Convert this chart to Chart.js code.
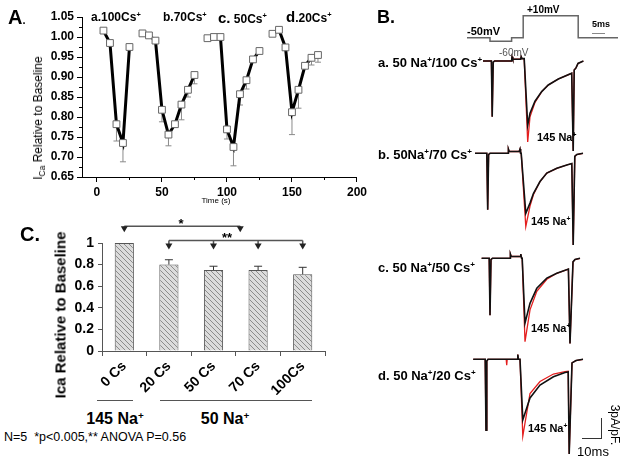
<!DOCTYPE html>
<html>
<head>
<meta charset="utf-8">
<script src="https://cdn.jsdelivr.net/npm/chart.js@4.4.1/dist/chart.umd.min.js"></script>
<style>
body { margin: 0; background: #fff; font-family: "Liberation Sans", Arial, sans-serif; }
#page { position: relative; width: 626px; height: 458px; overflow: hidden; }
canvas { position: absolute; }
.t { position: absolute; white-space: nowrap; color: #000; line-height: 1; }
.l { transform: translate(0, -50%); }
.c { transform: translate(-50%, -50%); }
.b { font-weight: bold; }
.rot { transform: translate(-50%, -50%) rotate(-90deg); }
.rotcw { transform: translate(-50%, -50%) rotate(90deg); }
sup { font-size: 62%; line-height: 0; vertical-align: 0.55em; }
sub { font-size: 70%; line-height: 0; vertical-align: -0.3em; }
.hline { position: absolute; height: 1px; background: #555; }
</style>
</head>
<body>
<div id="page">
  <canvas id="chartA" width="370" height="215" style="left:0;top:0"></canvas>
  <canvas id="chartC" width="340" height="180" style="left:0;top:215px"></canvas>
  <canvas id="protocol" width="160" height="40" style="left:460px;top:5px"></canvas>
  <canvas id="traceA" width="160" height="105" style="left:460px;top:48px"></canvas>
  <canvas id="traceB" width="160" height="110" style="left:460px;top:140px"></canvas>
  <canvas id="traceC" width="160" height="105" style="left:460px;top:245px"></canvas>
  <canvas id="traceD" width="160" height="113" style="left:460px;top:345px"></canvas>

  <!-- panel A text -->
  <div class="t l b" style="left:8px;top:17px;font-size:20px">A<span style="font-size:11px">.</span></div>
  <div class="t l b" style="left:91px;top:17px;font-size:12px">a.100Cs<sup>+</sup></div>
  <div class="t l b" style="left:163px;top:17px;font-size:12px">b.70Cs<sup>+</sup></div>
  <div class="t l b" style="left:218px;top:17px;font-size:12px"><span style="font-size:15px">c.</span> 50Cs<sup>+</sup></div>
  <div class="t l b" style="left:286px;top:16px;font-size:12px"><span style="font-size:15px">d</span>.20Cs<sup>+</sup></div>
  <div class="t rot" style="left:38px;top:118px;font-size:12px">I<sub>Ca</sub> Relative to Baseline</div>
  <div class="t c" style="left:216px;top:201px;font-size:8px">Time (s)</div>

  <!-- panel C text -->
  <div class="t l b" style="left:20px;top:234px;font-size:20px">C.</div>
  <div class="t rot b" style="left:60px;top:315px;font-size:15px">Ica Relative to Baseline</div>
  <div class="t c b" style="left:181px;top:223px;font-size:13px">*</div>
  <div class="t c b" style="left:227px;top:237px;font-size:13px">**</div>
  <div class="hline" style="left:97px;top:400px;width:36px"></div>
  <div class="hline" style="left:160px;top:400px;width:152px"></div>
  <div class="t c b" style="left:115px;top:419px;font-size:16px">145 Na<sup>+</sup></div>
  <div class="t c b" style="left:225px;top:419px;font-size:16px">50 Na<sup>+</sup></div>
  <div class="t l" style="left:4px;top:437px;font-size:12.5px">N=5 &nbsp;*p&lt;0.005,** ANOVA P=0.56</div>

  <!-- panel B text -->
  <div class="t l b" style="left:377px;top:17px;font-size:18px">B.</div>
  <div class="t l b" style="left:467px;top:31px;font-size:11px">-50mV</div>
  <div class="t l b" style="left:527px;top:10px;font-size:10px">+10mV</div>
  <div class="t l b" style="left:592px;top:24px;font-size:9px">5ms</div>
  <div class="hline" style="left:592px;top:33px;width:13px;background:#888"></div>
  <div class="t l" style="left:499px;top:53px;font-size:10px;color:#555">-60mV</div>
  <div class="t l b" style="left:378px;top:62px;font-size:13px">a. 50 Na<sup>+</sup>/100 Cs<sup>+</sup></div>
  <div class="t l b" style="left:378px;top:154px;font-size:13px">b. 50Na<sup>+</sup>/70 Cs<sup>+</sup></div>
  <div class="t l b" style="left:378px;top:267px;font-size:13px">c. 50 Na<sup>+</sup>/50 Cs<sup>+</sup></div>
  <div class="t l b" style="left:378px;top:375px;font-size:13px">d. 50 Na<sup>+</sup>/20 Cs<sup>+</sup></div>
  <div class="t l b" style="left:537px;top:137px;font-size:11px">145 Na<sup>+</sup></div>
  <div class="t l b" style="left:531px;top:221px;font-size:11px">145 Na<sup>+</sup></div>
  <div class="t l b" style="left:531px;top:328px;font-size:11px">145 Na<sup>+</sup></div>
  <div class="t l b" style="left:528px;top:428px;font-size:11px">145 Na<sup>+</sup></div>
  <div style="position:absolute;left:601px;top:418px;width:1px;height:21px;background:#333"></div>
  <div class="hline" style="left:582px;top:438px;width:20px;background:#333"></div>
  <div class="t c" style="left:593px;top:451px;font-size:13px">10ms</div>
  <div class="t rotcw" style="left:615px;top:425px;font-size:12px">3pA/pF.</div>
</div>

<script>
// ---- panel A: time course of I_Ca relative to baseline ----
const time100 = [5, 10, 15, 20, 25];
const ica100 = [1.016, 0.985, 0.782, 0.735, 0.975];
const errLow100 = [null, null, 0.740, 0.688, null];

const time70 = [35, 40, 45, 50, 55, 60, 65, 70, 75];
const ica70 = [1.009, 1.004, 0.991, 0.818, 0.756, 0.782, 0.831, 0.868, 0.905];
const errLow70 = [null, null, null, 0.788, 0.728, null, 0.793, 0.850, 0.883];

const time50 = [85, 90, 95, 100, 105, 110, 115, 120, 125];
const ica50 = [0.997, 1.0, 1.0, 0.769, 0.725, 0.857, 0.892, 0.944, 0.965];
const errLow50 = [null, null, null, 0.745, 0.678, 0.830, 0.870, null, null];

const time20 = [135, 140, 145, 150, 155, 160, 165, 170];
const ica20 = [1.008, 1.018, 0.974, 0.812, 0.868, 0.928, 0.948, 0.955];
const errLow20 = [null, null, null, 0.756, 0.822, null, 0.930, 0.937];

// ---- panel C: mean I_Ca per Cs concentration ----
const csLabels = ['0 Cs', '20 Cs', '50 Cs', '70 Cs', '100Cs'];
const icaMeans = [1, 0.80, 0.75, 0.75, 0.71];
const icaErrTop = [null, 0.845, 0.785, 0.785, 0.775];
const starPair = [0, 2.6];          // * bracket ends (category index)
const starStarGroup = [1, 2, 3, 4]; // ** bracket arrows

// ---- panel B: voltage protocol and current traces (ms, mV, pA/pF) ----
const protoTime = [-1.5, 10, 10, 20.8, 20.8, 26.6, 26.6, 54.1, 54.1, 74];
const protoVolt = [-50, -50, -60, -60, -50, -50, 10, 10, -50, -50];

const traceTimeA = [6.5, 10.7, 11.1, 11.6, 12.3, 20.8, 21.0, 21.4, 25.3, 25.6, 26.0, 27.1, 28.85, 30.0, 32.5, 35.85, 39.15, 44.15, 50.85, 51.6, 52.1, 53.0, 54.0, 56.7];
const csA = [0, 0, -9.3, -0.2, 0, 0, 0.7, 0.3, 0.3, 0.7, 0.4, 0.4, -10.7, -8.7, -6.7, -5.1, -4.0, -3.0, -2.05, -15.0, -1.5, -1.15, -0.4, 0];
const naA = [0, 0, -9.3, -0.2, 0, 0, 0.7, 0.3, 0.3, 0.7, 0.4, 0.4, -13.5, -9.3, -6.9, -5.1, -4.0, -3.0, -2.05, -15.0, -1.5, -1.15, -0.4, 0];

const traceTimeB = [2.5, 8.4, 8.85, 9.3, 10.0, 19.0, 19.2, 19.6, 24.6, 25.0, 25.3, 25.6, 27.9, 30.0, 31.7, 35.0, 38.4, 43.4, 48.4, 50.9, 51.6, 52.4, 53.4, 56.5];
const csB = [0, 0, -9.4, -0.2, 0, 0, 0.7, 0.3, 0.3, 0.7, 0, 0, -10.0, -8.3, -6.7, -4.7, -3.3, -2.5, -1.95, -1.7, -15.3, -0.5, -0.2, 0];
const naB = [0, 0, -9.4, -0.2, 0, 0, 0.7, 0.3, 0.3, 0.7, 0, 0, -12.2, -8.8, -6.9, -4.7, -3.3, -2.5, -1.95, -1.7, -15.3, -0.5, -0.2, 0];

const traceTimeC = [5.8, 9.6, 10.0, 10.5, 11.2, 20.0, 20.2, 20.6, 25.0, 25.4, 25.8, 26.1, 27.5, 30.0, 33.4, 38.4, 43.4, 49.2, 50.0, 51.5, 52.5, 55.0];
const csC = [0, 0, -9.5, -0.2, 0, 0, 0.7, 0.3, 0.3, 0.7, 0, 0, -10.8, -7.5, -5.0, -3.3, -2.5, -1.8, -14.2, -0.6, -0.2, 0];
const naC = [0, 0, -9.5, -0.2, 0, 0, 0.7, 0.3, 0.3, 0.7, 0, 0, -13.9, -8.6, -5.5, -3.5, -2.5, -1.8, -14.2, -0.6, -0.2, 0];

const traceTimeD = [1.6, 7.6, 8.0, 8.4, 9.0, 18.1, 18.35, 18.6, 23.6, 23.9, 24.2, 25.0, 26.4, 30.0, 35.0, 41.7, 47.5, 49.1, 49.6, 51.0, 53.0, 56.5];
const csD = [0, 0, -11.8, -0.3, 0, 0, 0, 0, 0, 0.8, 0, 0, -10.1, -6.45, -4.3, -2.9, -2.2, -2.1, -15.8, -0.6, -0.2, 0];
const naD = [0, 0, -11.8, -0.3, 0, 0, -1.0, 0, 0, 0.8, 0, 0, -12.8, -5.7, -3.7, -2.45, -2.07, -2.0, -15.8, -0.6, -0.2, 0];

Chart.defaults.font.family = '"Liberation Sans", Arial, sans-serif';
Chart.defaults.color = '#000';
Chart.defaults.animation = false;

function xy(xs, ys) {
    return xs.map((x, i) => ({ x: x, y: ys[i] }));
}

// error bars hanging below the points of panel A
const lowErrors = [errLow100, errLow70, errLow50, errLow20];
const errorBarsA = {
    id: 'errorBarsA',
    beforeDatasetsDraw(chart) {
        const ctx = chart.ctx;
        const xs = chart.scales.x, ys = chart.scales.y;
        ctx.save();
        ctx.strokeStyle = '#8a8a8a';
        ctx.lineWidth = 1;
        chart.data.datasets.forEach((ds, i) => {
            ds.data.forEach((p, j) => {
                const low = lowErrors[i][j];
                if (low == null) return;
                const x = xs.getPixelForValue(p.x);
                const y1 = ys.getPixelForValue(p.y);
                const y2 = ys.getPixelForValue(low);
                ctx.beginPath();
                ctx.moveTo(x, y1); ctx.lineTo(x, y2);
                ctx.moveTo(x - 3, y2); ctx.lineTo(x + 3, y2);
                ctx.stroke();
            });
        });
        ctx.restore();
    },
    // short minor ticks halfway between the labelled ones
    afterDraw(chart) {
        const ctx = chart.ctx;
        const xs = chart.scales.x, ys = chart.scales.y;
        const area = chart.chartArea;
        ctx.save();
        ctx.strokeStyle = '#000';
        ctx.lineWidth = 1;
        ctx.beginPath();
        for (let i = 0; i < xs.ticks.length - 1; i++) {
            const x = Math.round(xs.getPixelForValue((xs.ticks[i].value + xs.ticks[i + 1].value) / 2)) + 0.5;
            ctx.moveTo(x, area.bottom); ctx.lineTo(x, area.bottom + 3);
        }
        for (let i = 0; i < ys.ticks.length - 1; i++) {
            const y = Math.round(ys.getPixelForValue((ys.ticks[i].value + ys.ticks[i + 1].value) / 2)) + 0.5;
            ctx.moveTo(area.left, y); ctx.lineTo(area.left - 3, y);
        }
        ctx.stroke();
        ctx.restore();
    }
};

function seriesA(xs, ys) {
    return {
        data: xy(xs, ys),
        borderColor: '#000',
        borderWidth: 3,
        pointStyle: 'rect',
        pointRadius: 4.8,
        pointBackgroundColor: '#fff',
        pointBorderColor: '#666',
        pointBorderWidth: 1,
        tension: 0
    };
}

new Chart(document.getElementById('chartA'), {
    type: 'line',
    data: {
        datasets: [
            seriesA(time100, ica100),
            seriesA(time70, ica70),
            seriesA(time50, ica50),
            seriesA(time20, ica20)
        ]
    },
    options: {
        responsive: false,
        layout: { padding: { top: 17, right: 13, left: 0, bottom: 0 } },
        plugins: { legend: { display: false }, tooltip: { enabled: false } },
        scales: {
            x: {
                type: 'linear', min: -11.5, max: 200,
                afterFit: function (scale) { scale.height = 38; },
                ticks: { stepSize: 50, includeBounds: false, maxRotation: 0, padding: 3,
                         font: { size: 12, weight: 'bold' } },
                grid: { drawOnChartArea: false, color: '#000', tickLength: 5 },
                border: { color: '#000', width: 1 }
            },
            y: {
                min: 0.65, max: 1.05,
                afterFit: function (scale) { scale.width = 82; },
                ticks: { stepSize: 0.05, padding: 3, font: { size: 12, weight: 'bold' },
                         callback: v => v.toFixed(2) },
                grid: { drawOnChartArea: false, color: '#000', tickLength: 5 },
                border: { color: '#000', width: 1 }
            }
        }
    },
    plugins: [errorBarsA]
});

// hatched fill for the bars of panel C
function hatchPattern() {
    const c = document.createElement('canvas');
    c.width = 5; c.height = 5;
    const g = c.getContext('2d');
    g.fillStyle = '#dcdcdc';
    g.fillRect(0, 0, 5, 5);
    g.strokeStyle = '#8c8c8c';
    g.lineWidth = 1;
    g.beginPath();
    g.moveTo(0, 0); g.lineTo(5, 5);
    g.moveTo(-1, 4); g.lineTo(1, 6);
    g.moveTo(4, -1); g.lineTo(6, 1);
    g.stroke();
    return g.createPattern(c, 'repeat');
}

const barExtras = {
    id: 'barExtras',
    afterDatasetsDraw(chart) {
        const ctx = chart.ctx;
        const xs = chart.scales.x, ys = chart.scales.y;
        ctx.save();
        // error bars
        ctx.strokeStyle = '#333';
        ctx.lineWidth = 1;
        icaErrTop.forEach((top, i) => {
            if (top == null) return;
            const x = xs.getPixelForValue(i);
            const y1 = ys.getPixelForValue(icaMeans[i]);
            const y2 = ys.getPixelForValue(top);
            ctx.beginPath();
            ctx.moveTo(x, y1); ctx.lineTo(x, y2);
            ctx.moveTo(x - 4, y2); ctx.lineTo(x + 4, y2);
            ctx.stroke();
        });
        // significance brackets
        function bracket(idx, level, tip) {
            const yb = ys.getPixelForValue(level);
            const yt = ys.getPixelForValue(tip);
            const px = idx.map(i => xs.getPixelForValue(i));
            ctx.strokeStyle = '#555';
            ctx.fillStyle = '#222';
            ctx.lineWidth = 1.5;
            ctx.beginPath();
            ctx.moveTo(px[0], yb); ctx.lineTo(px[px.length - 1], yb);
            px.forEach(x => { ctx.moveTo(x, yb); ctx.lineTo(x, yt - 4); });
            ctx.stroke();
            px.forEach(x => {
                ctx.beginPath();
                ctx.moveTo(x - 3.5, yt - 6); ctx.lineTo(x + 3.5, yt - 6); ctx.lineTo(x, yt);
                ctx.closePath();
                ctx.fill();
            });
        }
        bracket(starPair, 1.156, 1.10);
        bracket(starStarGroup, 1.022, 0.94);
        ctx.restore();
    }
};

new Chart(document.getElementById('chartC'), {
    type: 'bar',
    data: {
        labels: csLabels,
        datasets: [{
            data: icaMeans,
            backgroundColor: hatchPattern(),
            borderColor: '#555',
            borderWidth: 1,
            barPercentage: 0.43,
            categoryPercentage: 1
        }]
    },
    options: {
        responsive: false,
        layout: { padding: { top: 28, right: 15, left: 0, bottom: 0 } },
        plugins: { legend: { display: false }, tooltip: { enabled: false } },
        scales: {
            x: {
                afterFit: function (scale) { scale.height = 44; },
                ticks: { minRotation: 45, maxRotation: 45, padding: 2, font: { size: 14, weight: 'bold' } },
                grid: { drawOnChartArea: false, color: '#555', tickLength: 5 },
                border: { color: '#555', width: 1 }
            },
            y: {
                min: 0, max: 1,
                afterFit: function (scale) { scale.width = 102; },
                ticks: { stepSize: 0.2, padding: 4, font: { size: 14, weight: 'bold' },
                         callback: v => (v === 0 || v === 1) ? String(v) : v.toFixed(1) },
                grid: { drawOnChartArea: false, color: '#555', tickLength: 4 },
                border: { color: '#555', width: 1 }
            }
        }
    },
    plugins: [barExtras]
});

// ---- panel B ----
function plainOptions(yMin, yMax) {
    return {
        responsive: false,
        layout: { padding: 0 },
        plugins: { legend: { display: false }, tooltip: { enabled: false } },
        elements: { point: { radius: 0 }, line: { tension: 0 } },
        scales: {
            x: { type: 'linear', min: -5, max: 75, display: false },
            y: { min: yMin, max: yMax, display: false }
        }
    };
}

// protocol: -50 mV sits 32.7 px below the canvas top, 0.367 px per mV
new Chart(document.getElementById('protocol'), {
    type: 'line',
    data: { datasets: [{ data: xy(protoTime, protoVolt), borderColor: '#666', borderWidth: 1.5, clip: false }] },
    options: plainOptions(-50 - 7.3 / 0.367, -50 + 32.7 / 0.367)
});

// each trace: baseline offset inside its canvas, 6 px per pA/pF
const PX_PER_UNIT = 6;
function traceChart(id, baseOffset, height, times, cs, na) {
    new Chart(document.getElementById(id), {
        type: 'line',
        data: {
            datasets: [
                { data: xy(times, cs), borderColor: '#111', borderWidth: 1.6, clip: false, order: 0 },
                { data: xy(times, na), borderColor: '#e41e1e', borderWidth: 1.3, clip: false, order: 1 }
            ]
        },
        options: plainOptions(-(height - baseOffset) / PX_PER_UNIT, baseOffset / PX_PER_UNIT)
    });
}

traceChart('traceA', 13, 105, traceTimeA, csA, naA);
traceChart('traceB', 13.3, 110, traceTimeB, csB, naB);
traceChart('traceC', 13.3, 105, traceTimeC, csC, naC);
traceChart('traceD', 14.3, 113, traceTimeD, csD, naD);
</script>
</body>
</html>
